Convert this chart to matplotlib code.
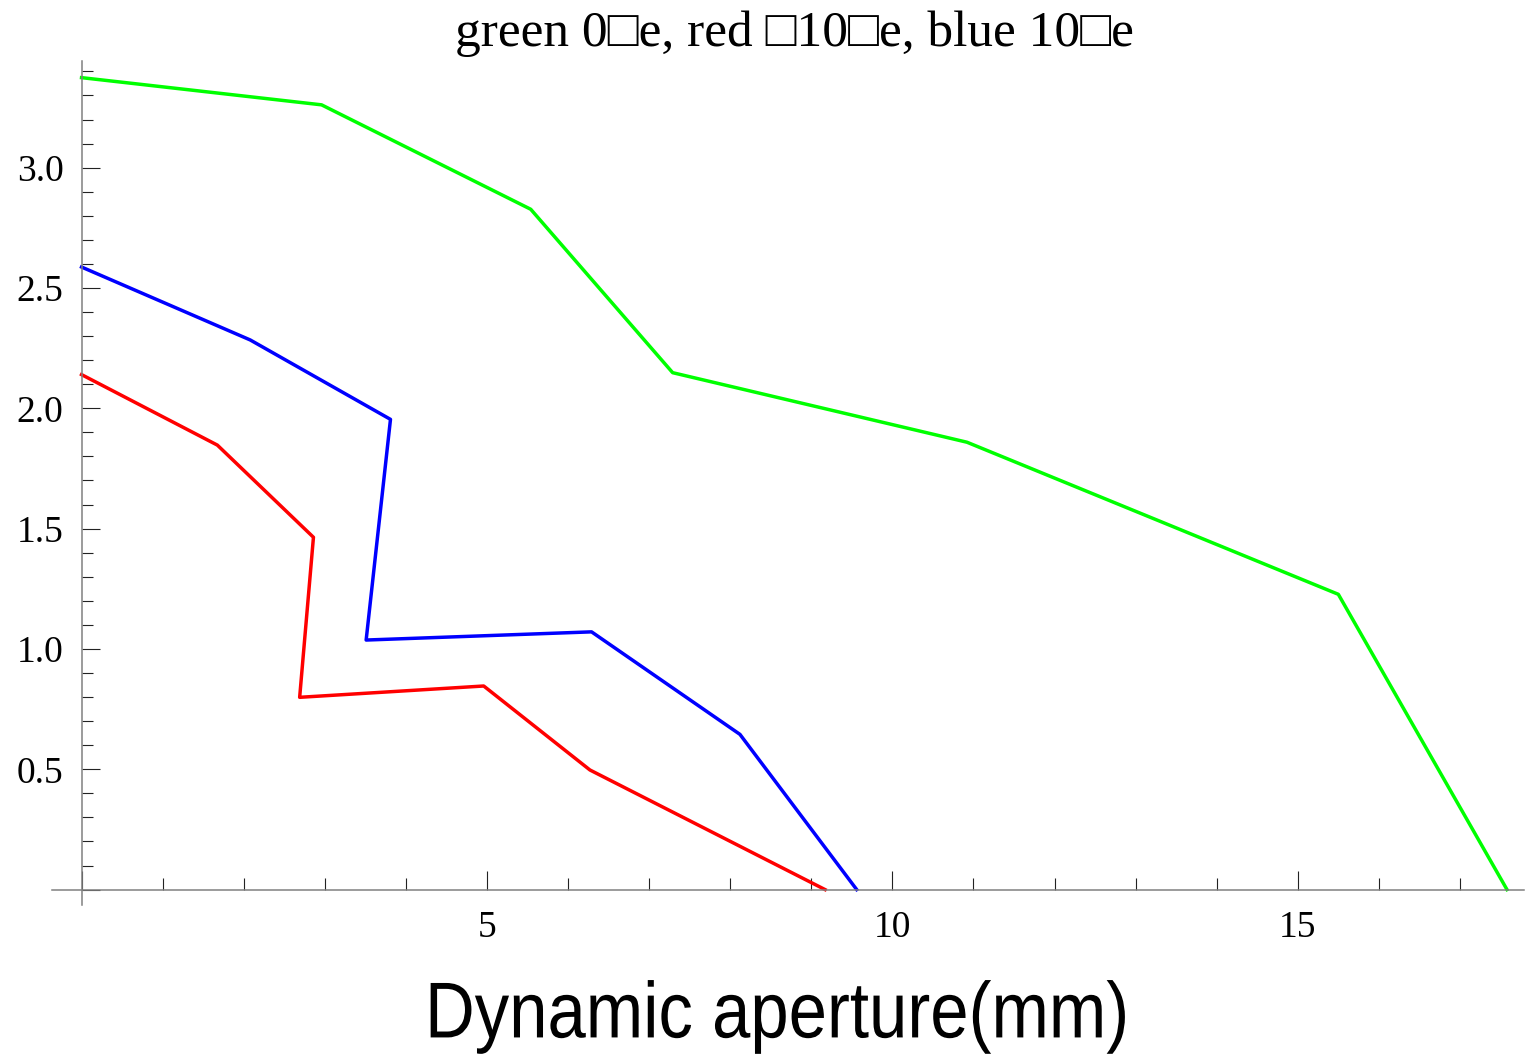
import matplotlib
matplotlib.use('Agg')
import matplotlib.pyplot as plt
from matplotlib.ticker import MultipleLocator, FuncFormatter
from matplotlib.patheffects import AbstractPathEffect
from matplotlib.transforms import Affine2D

# data (x = dynamic aperture in mm)
green_x = [0.0, 2.96, 5.54, 7.29, 10.92, 15.50, 17.58]
green_y = [3.374, 3.261, 2.827, 2.148, 1.859, 1.227, 0.0]

red_x = [0.0, 1.675, 2.86, 2.69, 4.96, 6.27, 9.17]
red_y = [2.14, 1.847, 1.464, 0.799, 0.846, 0.497, 0.0]

blue_x = [0.0, 2.08, 3.81, 3.51, 6.29, 8.12, 9.56]
blue_y = [2.587, 2.284, 1.954, 1.037, 1.071, 0.645, 0.0]

title = 'green 0\u25a1e, red \u25a110\u25a1e, blue 10\u25a1e'
xlabel = 'Dynamic aperture(mm)'


class Condense(AbstractPathEffect):
    # squeeze glyphs sideways, no narrow font installed
    def __init__(self, sx):
        super().__init__()
        self.sx = sx

    def draw_path(self, renderer, gc, tpath, affine, rgbFace=None):
        renderer.draw_path(gc, tpath, Affine2D().scale(self.sx, 1.0) + affine, rgbFace)


fig = plt.figure(figsize=(15.26, 10.56), dpi=100)
ax = fig.add_axes([0.0341, 0.1430, 0.9646, 0.7992])

ax.plot(green_x, green_y, color='#00ff00', lw=2.5, clip_on=False)
ax.plot(red_x, red_y, color='#ff0000', lw=2.5, clip_on=False)
ax.plot(blue_x, blue_y, color='#0000ff', lw=2.5, clip_on=False)

ax.set_xlim(-0.364, 17.79)
ax.set_ylim(-0.064, 3.443)

# mathematica style axes crossing at the origin
for s in ['top', 'right']:
    ax.spines[s].set_visible(False)
ax.spines['left'].set_position(('data', 0))
ax.spines['bottom'].set_position(('data', 0))
for s in ['left', 'bottom']:
    ax.spines[s].set_color('#808080')
    ax.spines[s].set_linewidth(1.1)

ax.xaxis.set_major_locator(MultipleLocator(5))
ax.xaxis.set_minor_locator(MultipleLocator(1))
ax.yaxis.set_major_locator(MultipleLocator(0.5))
ax.yaxis.set_minor_locator(MultipleLocator(0.1))
ax.xaxis.set_major_formatter(FuncFormatter(lambda v, p: '' if abs(v) < 1e-9 else '%d' % v))
ax.yaxis.set_major_formatter(FuncFormatter(lambda v, p: '' if abs(v) < 1e-9 else '%.1f' % v))

serif = ['Liberation Serif', 'DejaVu Serif']
ax.tick_params(which='both', direction='in', color='#222222', width=0.8)
ax.tick_params(axis='y', which='major', length=13, pad=13, labelsize=27)
ax.tick_params(axis='y', which='minor', length=8)
ax.tick_params(axis='x', which='major', length=14, pad=15, labelsize=27)
ax.tick_params(axis='x', which='minor', length=9)
for lab in ax.get_xticklabels() + ax.get_yticklabels():
    lab.set_family(serif)

fig.text(0.5203, 0.968, title, ha='center', va='center', fontsize=37,
         family=['Liberation Serif', 'DejaVu Sans'])
fig.text(425 / 1526, 0.037, xlabel, ha='left', va='center', fontsize=57,
         family=['Liberation Sans', 'DejaVu Sans'],
         path_effects=[Condense(0.87)])

fig.savefig('out.png', dpi=100)
